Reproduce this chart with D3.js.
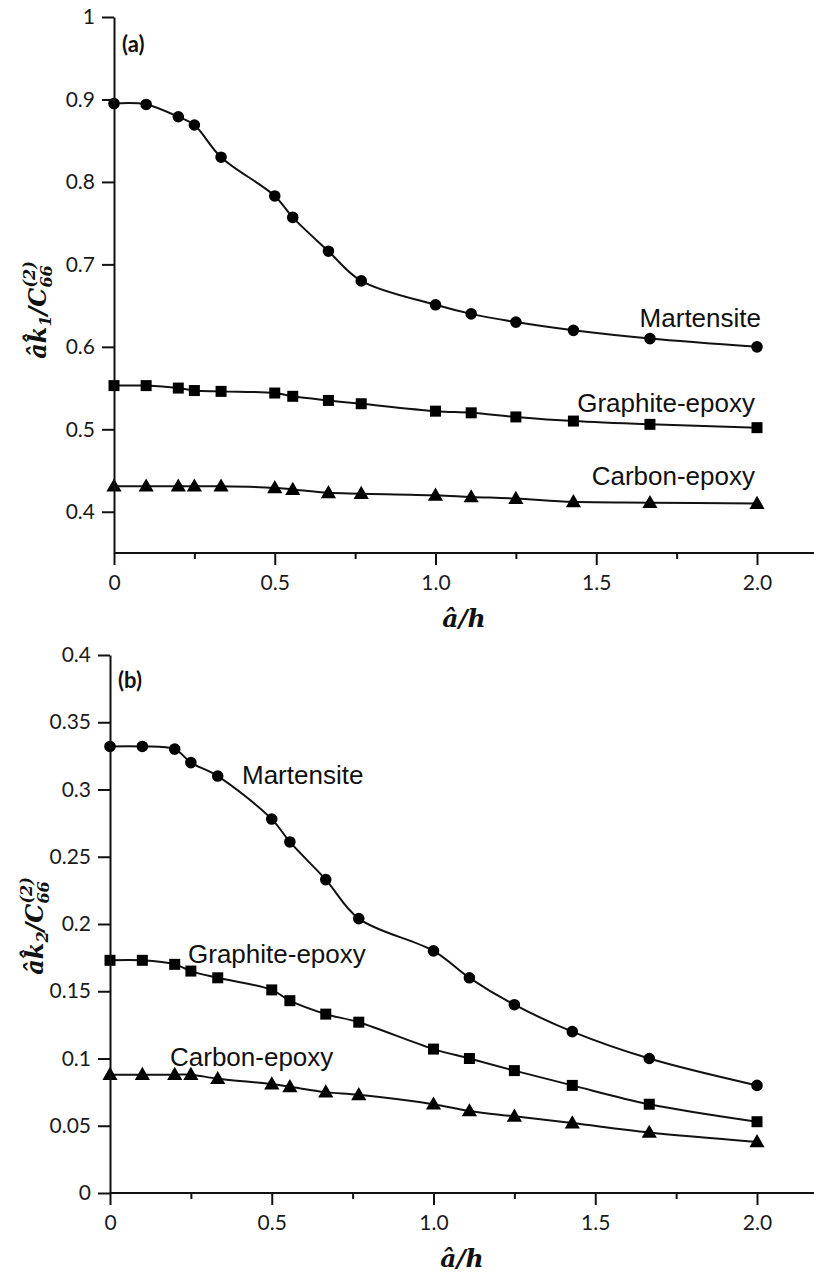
<!DOCTYPE html>
<html>
<head>
<meta charset="utf-8">
<script src="https://cdn.jsdelivr.net/npm/d3@7"></script>
<style>
  body { margin: 0; background: #fff; }
  svg { display: block; }
  .tick text { font-family: Lato, sans-serif; font-size: 21px; fill: #1a1a1a; }
  .axis path, .axis line { stroke: #111; stroke-width: 2px; }
  .curve { fill: none; stroke: #111; stroke-width: 2px; }
  .mat { font-family: "Liberation Sans", Arial, sans-serif; font-size: 26px; fill: #111; }
  .math { font-family: "DejaVu Serif", serif; font-weight: bold; font-style: italic; fill: #111; }
  .panel { font-family: Lato, sans-serif; font-weight: bold; font-size: 22px; fill: #111; }
</style>
</head>
<body>
<div id="chart"></div>
<script>
// x positions (a/h) shared by every series
const aOverH = [0, 0.1, 0.2, 0.25, 0.333, 0.5, 0.556, 0.667, 0.769, 1.0, 1.111, 1.25, 1.429, 1.667, 2.0];

// panel (a): a k1 / C66
const martensiteA = [0.895, 0.894, 0.879, 0.869, 0.830, 0.783, 0.757, 0.716, 0.680, 0.651, 0.640, 0.630, 0.620, 0.610, 0.600];
const graphiteA   = [0.553, 0.553, 0.550, 0.547, 0.546, 0.544, 0.540, 0.535, 0.531, 0.522, 0.520, 0.515, 0.510, 0.506, 0.502];
const carbonA     = [0.431, 0.431, 0.431, 0.431, 0.431, 0.429, 0.427, 0.423, 0.422, 0.420, 0.418, 0.416, 0.412, 0.411, 0.410];

// panel (b): a k2 / C66
const martensiteB = [0.332, 0.332, 0.330, 0.320, 0.310, 0.278, 0.261, 0.233, 0.204, 0.180, 0.160, 0.140, 0.120, 0.100, 0.080];
const graphiteB   = [0.173, 0.173, 0.170, 0.165, 0.160, 0.151, 0.143, 0.133, 0.127, 0.107, 0.100, 0.091, 0.080, 0.066, 0.053];
const carbonB     = [0.088, 0.088, 0.088, 0.088, 0.085, 0.081, 0.079, 0.075, 0.073, 0.066, 0.061, 0.057, 0.052, 0.045, 0.038];

const seriesNames = ['Martensite', 'Graphite-epoxy', 'Carbon-epoxy'];

// ticks
const xMajorTicks = [0, 0.5, 1.0, 1.5, 2.0];
const xMajorLabels = ['0', '0.5', '1.0', '1.5', '2.0'];
const xMinorTicks = [0.25, 0.75, 1.25, 1.75];
const yTicksA = [0.4, 0.5, 0.6, 0.7, 0.8, 0.9, 1.0];
const yLabelsA = ['0.4', '0.5', '0.6', '0.7', '0.8', '0.9', '1'];
const yTicksB = [0, 0.05, 0.1, 0.15, 0.2, 0.25, 0.3, 0.35, 0.4];
const yLabelsB = ['0', '0.05', '0.1', '0.15', '0.2', '0.25', '0.3', '0.35', '0.4'];

const width = 814;
const height = 1276;

const svg = d3.select('#chart')
  .append('svg')
  .attr('width', width)
  .attr('height', height);

svg.append('rect').attr('width', width).attr('height', height).attr('fill', '#fff');

const symbols = [d3.symbolCircle, d3.symbolSquare, d3.symbolTriangle];
const symbolSizes = [105, 121, 100];

// draw a bold-italic math label made of pieces, returns its width
const mathLabel = (g, pieces, big, small) => {
  const t = g.append('text').attr('class', 'math');
  let x = 0;
  let lastStart = 0;
  pieces.forEach(p => {
    const size = p.small ? small : big;
    const px = p.overlap ? lastStart : x;
    const s = t.append('tspan')
      .attr('x', px)
      .attr('y', p.dy || 0)
      .style('font-size', size + 'px')
      .text(p.t);
    const w = s.node().getComputedTextLength();
    if (!p.overlap) { lastStart = x; x += w; }
  });
  return x;
};

const drawPanel = (cfg) => {
  const x = d3.scaleLinear().domain([0, 2.18]).range(cfg.xRange);
  const y = d3.scaleLinear().domain(cfg.yDomain).range(cfg.yRange);

  const g = svg.append('g');

  // curves + markers
  cfg.series.forEach((vals, i) => {
    const pts = aOverH.map((a, j) => [a, vals[j]]);
    g.append('path')
      .datum(pts)
      .attr('class', 'curve')
      .attr('d', d3.line().x(d => x(d[0])).y(d => y(d[1])).curve(d3.curveCatmullRom.alpha(0.5)));
    g.selectAll('.m' + i)
      .data(pts)
      .enter().append('path')
      .attr('transform', d => `translate(${x(d[0])},${y(d[1]) + (i === 2 ? 1 : 0)})`)
      .attr('d', d3.symbol().type(symbols[i]).size(symbolSizes[i]))
      .attr('fill', '#000');
  });

  // x axis
  const xAxis = g.append('g')
    .attr('class', 'axis')
    .attr('transform', `translate(0,${cfg.yRange[0]})`)
    .call(d3.axisBottom(x)
      .tickValues(xMajorTicks)
      .tickFormat((d, i) => xMajorLabels[i])
      .tickSize(12)
      .tickSizeOuter(0)
      .tickPadding(10));
  xAxis.select('.domain').attr('d', `M${cfg.xRange[0]},0H${width}`);

  g.append('g')
    .attr('class', 'axis')
    .attr('transform', `translate(0,${cfg.yRange[0]})`)
    .call(d3.axisBottom(x).tickValues(xMinorTicks).tickFormat('').tickSize(6).tickSizeOuter(0))
    .select('.domain').remove();

  // y axis
  g.append('g')
    .attr('class', 'axis')
    .attr('transform', `translate(${cfg.xRange[0]},0)`)
    .call(d3.axisLeft(y)
      .tickValues(cfg.yTicks)
      .tickFormat((d, i) => cfg.yLabels[i])
      .tickSize(12)
      .tickSizeOuter(0)
      .tickPadding(7));

  // series names
  cfg.names.forEach((n, i) => {
    g.append('text')
      .attr('class', 'mat')
      .attr('x', n.x)
      .attr('y', n.y)
      .attr('text-anchor', n.anchor)
      .text(seriesNames[i]);
  });

  // panel letter
  g.append('text')
    .attr('class', 'panel')
    .attr('x', cfg.xRange[0] + 8)
    .attr('y', cfg.letterY)
    .text(cfg.letter);

  // x title
  const xt = g.append('g');
  const xw = mathLabel(xt, [{ t: 'â/h' }], 25, 15);
  xt.attr('transform', `translate(${(cfg.xRange[0] + width) / 2 - xw / 2},${cfg.yRange[0] + 74})`);

  // y title
  const yt = g.append('g');
  const yw = mathLabel(yt, [
    { t: 'âk\u0302' },
    { t: cfg.k, small: true, dy: 5 },
    { t: '/C' },
    { t: '66', small: true, dy: 6 },
    { t: '(2)', small: true, dy: -11, overlap: true }
  ], 24, 16);
  yt.attr('transform', `translate(${cfg.yTitleX},${cfg.yTitleY}) rotate(-90) translate(${-yw / 2},0)`);
};

drawPanel({
  series: [martensiteA, graphiteA, carbonA],
  xRange: [114, 114 + 2.18 * 321.5],
  yDomain: [0.35, 1],
  yRange: [553, 17],
  yTicks: yTicksA,
  yLabels: yLabelsA,
  letter: '(a)',
  letterY: 52,
  k: '1',
  yTitleX: 46,
  yTitleY: 312,
  names: [
    { x: 761, y: 327, anchor: 'end' },
    { x: 755, y: 412, anchor: 'end' },
    { x: 755, y: 485, anchor: 'end' }
  ]
});

drawPanel({
  series: [martensiteB, graphiteB, carbonB],
  xRange: [110, 110 + 2.18 * 323.5],
  yDomain: [0, 0.4],
  yRange: [1193, 655],
  yTicks: yTicksB,
  yLabels: yLabelsB,
  letter: '(b)',
  letterY: 688,
  k: '2',
  yTitleX: 43,
  yTitleY: 928,
  names: [
    { x: 242, y: 784, anchor: 'start' },
    { x: 188, y: 963, anchor: 'start' },
    { x: 170, y: 1066, anchor: 'start' }
  ]
});
</script>
</body>
</html>
